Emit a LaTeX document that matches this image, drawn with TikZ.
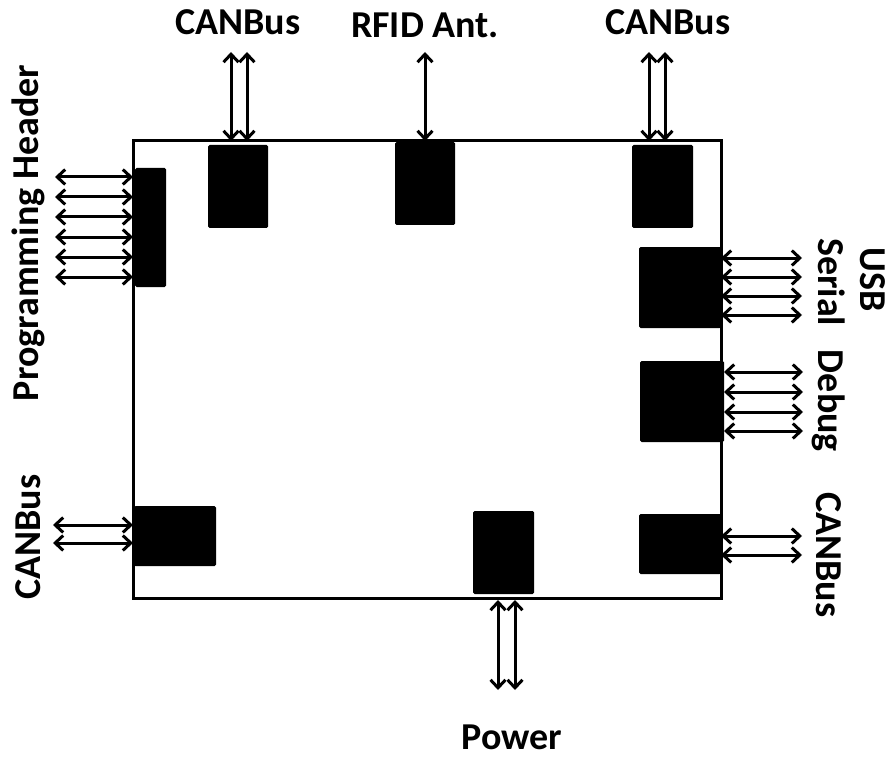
\documentclass[tikz,border=0pt]{standalone}
\usepackage{fontspec}
\setmainfont{Carlito}
\usetikzlibrary{arrows.meta}
\begin{document}
\begin{tikzpicture}[x=1pt,y=-1pt,
  blk/.style={fill=black,rounded corners=1.5pt},
  conn/.style={line width=3pt,>={Straight Barb[length=8pt,width=15pt]},<->},
  lbl/.style={font=\bfseries\fontsize{38}{42}\selectfont,inner sep=0pt}]
\useasboundingbox (0,0) rectangle (895,757);
\draw[line width=3pt] (133,141) rectangle (721,598);
% blocks
\fill[blk] (135,168) rectangle (166,287);
\fill[blk] (208,145) rectangle (268,228);
\fill[blk] (395,142) rectangle (455,225);
\fill[blk] (632,145) rectangle (693,228);
\fill[blk] (639,247) rectangle (721,328);
\fill[blk] (640,361) rectangle (724,442);
\fill[blk] (134,506) rectangle (216,566);
\fill[blk] (473,511) rectangle (534,594);
\fill[blk] (639,514) rectangle (721,574);
% connectors
\foreach \y [count=\i] in {177,197,217,237,257,277}{
  \coordinate (pa\i) at (55,\y); \coordinate (pb\i) at (133,\y);
  \draw[conn] (pa\i) -- (pb\i);}
\foreach \x [count=\i] in {231,247}{
  \coordinate (ta\i) at (\x,52); \coordinate (tb\i) at (\x,141);
  \draw[conn] (ta\i) -- (tb\i);}
\coordinate (ra) at (425,52); \coordinate (rb) at (425,141);
\draw[conn] (ra) -- (rb);
\foreach \x [count=\i] in {649,665}{
  \coordinate (ua\i) at (\x,52); \coordinate (ub\i) at (\x,141);
  \draw[conn] (ua\i) -- (ub\i);}
\foreach \y [count=\i] in {258,277,296,315}{
  \coordinate (sa\i) at (721,\y); \coordinate (sb\i) at (802,\y);
  \draw[conn] (sa\i) -- (sb\i);}
\foreach \y [count=\i] in {372,392,412,431}{
  \coordinate (da\i) at (724,\y); \coordinate (db\i) at (803,\y);
  \draw[conn] (da\i) -- (db\i);}
\foreach \y [count=\i] in {525,543}{
  \coordinate (la\i) at (53,\y); \coordinate (lb\i) at (133,\y);
  \draw[conn] (la\i) -- (lb\i);}
\foreach \y [count=\i] in {536,555}{
  \coordinate (ca\i) at (721,\y); \coordinate (cb\i) at (802,\y);
  \draw[conn] (ca\i) -- (cb\i);}
\foreach \x [count=\i] in {498,515}{
  \coordinate (wa\i) at (\x,600); \coordinate (wb\i) at (\x,690);
  \draw[conn] (wa\i) -- (wb\i);}
% labels
\node[lbl] (l1) at (238,22) {CANBus};
\node[lbl] (l2) at (425,25) {RFID Ant.};
\node[lbl] (l3) at (668,22) {CANBus};
\node[lbl,rotate=90] (l4) at (28,233) {Programming Header};
\node[lbl,rotate=90] (l5) at (28,537) {CANBus};
\node[lbl,rotate=-90] (l6) at (873,280) {USB};
\node[lbl,rotate=-90] (l7) at (829,345) {Serial\hspace{0.4em} Debug};
\node[lbl,rotate=-90] (l8) at (829,555) {CANBus};
\node[lbl,anchor=base] (l9) at (512,749) {Power};
\end{tikzpicture}
\end{document}
